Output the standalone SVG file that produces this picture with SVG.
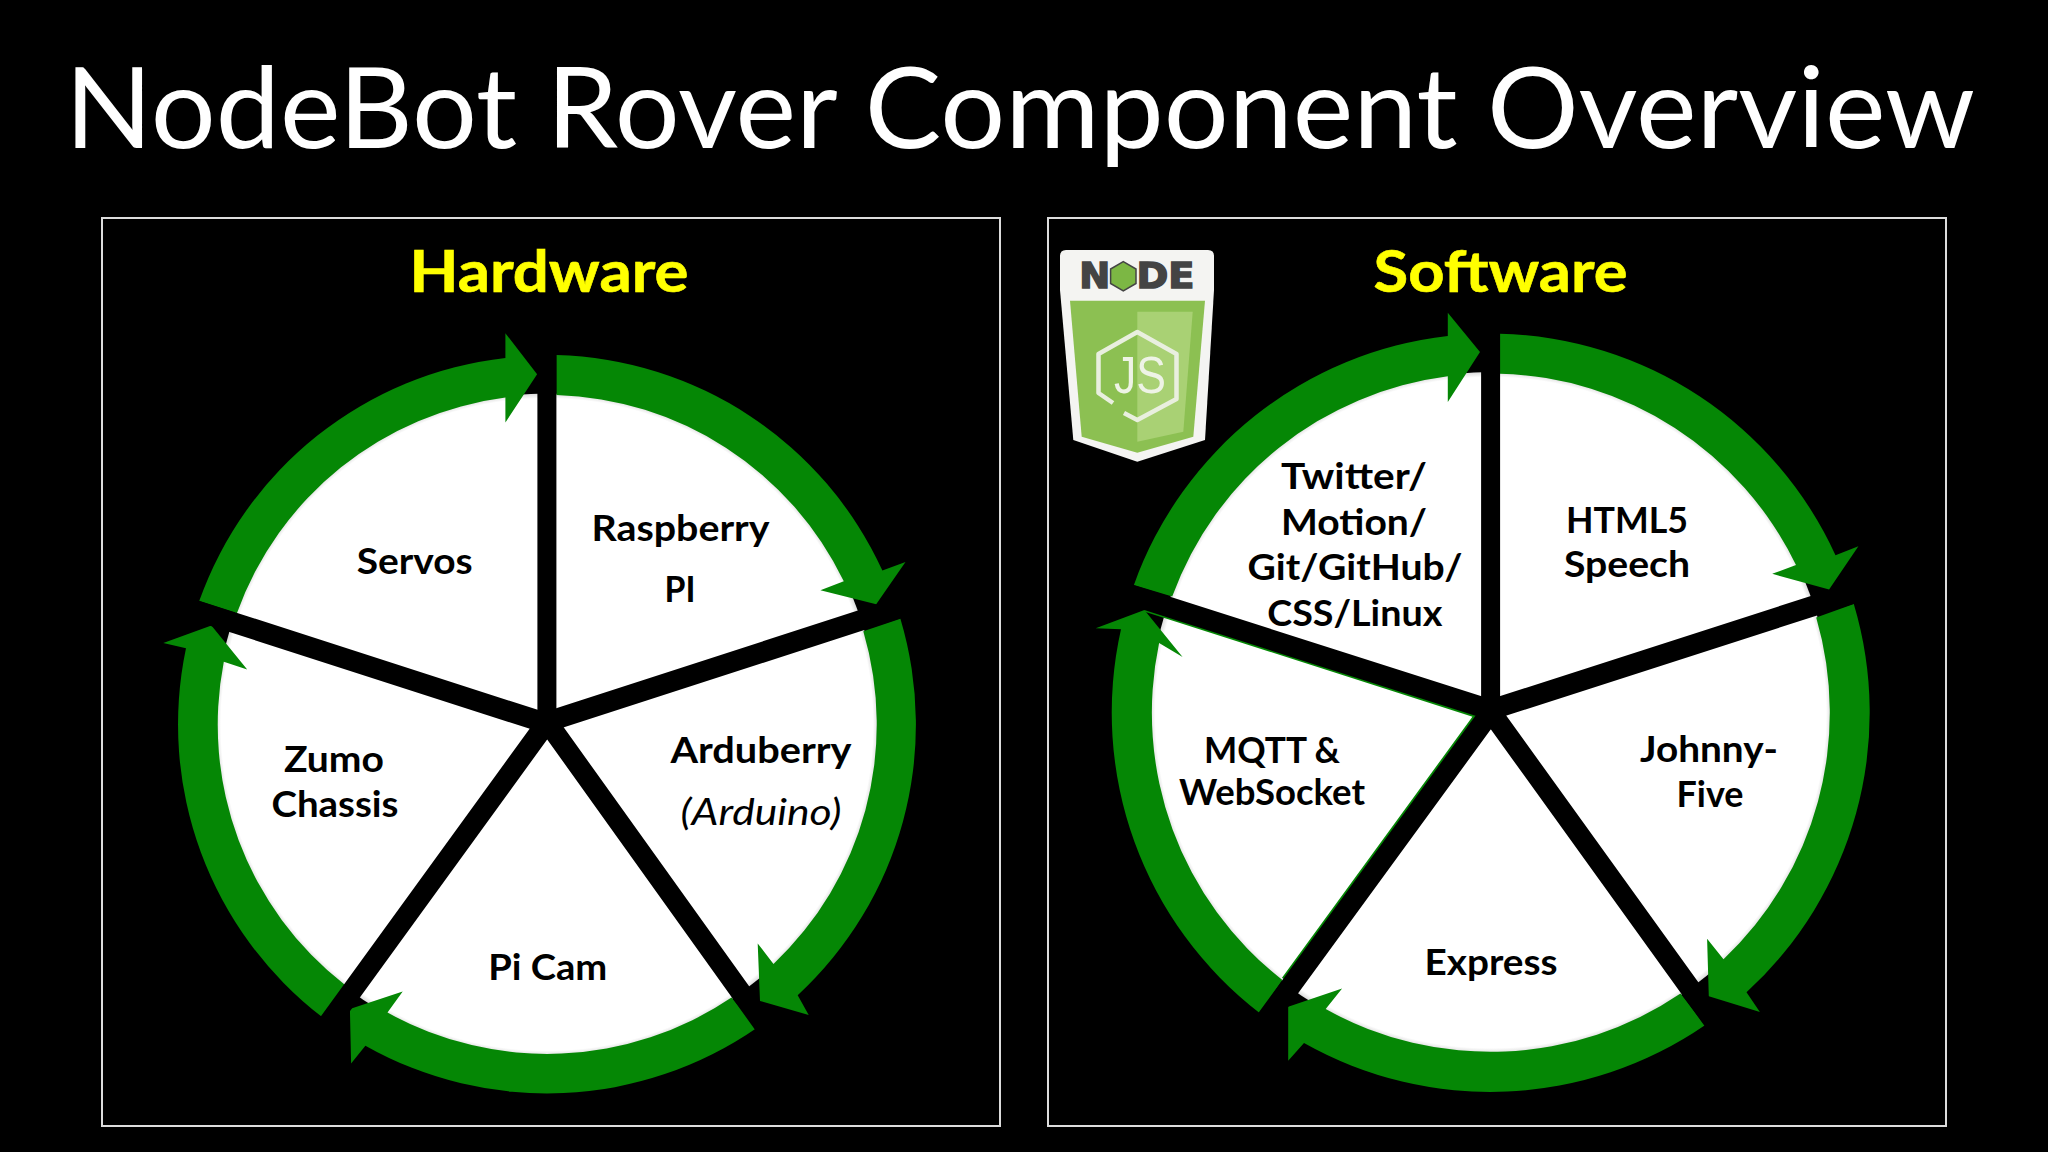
<svg xmlns="http://www.w3.org/2000/svg" width="2048" height="1152" viewBox="0 0 2048 1152">
<style>
text{font-family:"Lato","Carlito","Liberation Sans",sans-serif;text-anchor:middle;fill:#000}
.lb{font-size:36px;font-weight:700}
.head{font-size:57px;font-weight:700;fill:#ffff00;stroke:#ffff00;stroke-width:0.6}
.arc{fill:#058705}
.spoke{stroke:#000;stroke-width:20.5;stroke-linecap:butt;fill:none}
.vert{stroke:#000;stroke-width:19;fill:none}
.frame{fill:none;stroke:#dcdcdc;stroke-width:2}
</style>
<defs>
<radialGradient id="disk"><stop offset="0.985" stop-color="#fff"/><stop offset="1" stop-color="#dcdcdc"/></radialGradient>
</defs>
<rect width="2048" height="1152" fill="#000"/>
<text id="title" x="1020" y="147.5" font-size="112" textLength="1910" lengthAdjust="spacingAndGlyphs" style="fill:#fff">NodeBot Rover Component Overview</text>

<g id="hardware-panel">
<rect class="frame" x="102" y="218" width="898" height="908"/>
<text class="head" x="549" y="292" textLength="279" lengthAdjust="spacingAndGlyphs">Hardware</text>
<circle cx="547" cy="724.5" r="331" fill="url(#disk)"/>
</g>
<g id="hardware-arrows">
<path class="arc" d="M556.4 355.1A369 369 0 0 1 882.4 570.6L905.5 562L876.2 604.3L820.4 590.2L843.8 581.3A329.5 329.5 0 0 0 556.4 395.1Z"/>
<path class="arc" d="M900.4 618.7A369 369 0 0 1 797.7 995.2L808.7 1015L760 1000.9L757.7 943.4L773.5 963.9A329.5 329.5 0 0 0 863.3 631.2Z"/>
<path class="arc" d="M756.7 1028A369 369 0 0 1 365.4 1045.7L351.1 1063.6L349.9 1009.1L402.7 991.5L387.5 1012.6A329.5 329.5 0 0 0 731.5 997.5Z"/>
<path class="arc" d="M322.1 1017.1A369 369 0 0 1 186 648.3L163.3 643L211.4 625.4L247.2 669.4L223.8 661.8A329.5 329.5 0 0 0 345.1 985Z"/>
<path class="arc" d="M199.2 601.1A369 369 0 0 1 505.4 357.9L505.4 333.2L537.1 374.3L505.4 422.4L505.4 397.6A329.5 329.5 0 0 0 236.9 613.3Z"/>
<path class="vert" d="M546.9 350V727"/>
<path class="spoke" d="M905 606.1L547 722M767.8 1030L547.3 722M323.6 1030L547.2 722M185 606.9L547 723.6"/>
</g>
<g id="raspberry-pi"><text class="lb" x="680.5" y="540.5" textLength="178" lengthAdjust="spacingAndGlyphs">Raspberry</text><text class="lb" x="680" y="602" textLength="31" lengthAdjust="spacingAndGlyphs">PI</text></g>
<g id="arduberry"><text class="lb" x="761" y="763" textLength="181" lengthAdjust="spacingAndGlyphs">Arduberry</text><text x="761" y="825" font-size="36" font-style="italic" textLength="161" lengthAdjust="spacingAndGlyphs">(Arduino)</text></g>
<g id="pi-cam"><text class="lb" x="547.7" y="980" textLength="119" lengthAdjust="spacingAndGlyphs">Pi Cam</text></g>
<g id="zumo-chassis"><text class="lb" x="334" y="772" textLength="100" lengthAdjust="spacingAndGlyphs">Zumo</text><text class="lb" x="335" y="816.5" textLength="127" lengthAdjust="spacingAndGlyphs">Chassis</text></g>
<g id="servos"><text class="lb" x="414.7" y="574" textLength="116" lengthAdjust="spacingAndGlyphs">Servos</text></g>

<g id="software-panel">
<rect class="frame" x="1048" y="218" width="898" height="908"/>
<text class="head" x="1500.5" y="292" textLength="254" lengthAdjust="spacingAndGlyphs">Software</text>
<circle cx="1490.7" cy="712.6" r="340.5" fill="url(#disk)"/>
</g>
<g id="software-arrows">
<path class="arc" d="M1500 333.7A379 379 0 0 1 1835.5 555.2L1858.4 546.2L1829.1 589.6L1772.2 573.8L1796 565.1A339 339 0 0 0 1500 373.7Z"/>
<path class="arc" d="M1853.8 604A379 379 0 0 1 1746.5 992.3L1759.9 1012L1708.8 996.2L1707.1 938.7L1723.5 959.2A339 339 0 0 0 1816.2 617.6Z"/>
<path class="arc" d="M1704.9 1025.3A379 379 0 0 1 1304 1043.1L1288.2 1060.7L1288.2 1006.7L1342.1 988.6L1325.7 1009.1A339 339 0 0 0 1680.5 993.5Z"/>
<path class="arc" d="M1259.9 1013.2A379 379 0 0 1 1121 629.3L1095.7 628.3L1144.4 610.1L1182.6 657.1L1159.1 643A339 339 0 0 0 1282.4 980Z"/>
<path class="arc" d="M1133.9 584.9A379 379 0 0 1 1447.8 336L1447.8 312.7L1480 352L1447.8 401.9L1447.8 376.3A339 339 0 0 0 1172.2 596.6Z"/>
<path d="M1144.4 610.3L1474.5 716L1283 978.6" fill="none" stroke="#058705" stroke-width="2.5"/>
<path class="vert" d="M1490.6 328V716"/>
<path class="spoke" d="M1860 590.9L1491 709.8M1720.1 1030L1491 712M1258.6 1030L1490.8 712M1120 591.5L1491 710"/>
</g>
<g id="html5-speech"><text class="lb" x="1627" y="532.5" textLength="122" lengthAdjust="spacingAndGlyphs">HTML5</text><text class="lb" x="1627" y="576.5" textLength="126" lengthAdjust="spacingAndGlyphs">Speech</text></g>
<g id="johnny-five"><text class="lb" x="1709" y="761.5" textLength="138" lengthAdjust="spacingAndGlyphs">Johnny-</text><text class="lb" x="1710" y="806.5" textLength="67" lengthAdjust="spacingAndGlyphs">Five</text></g>
<g id="express"><text class="lb" x="1491" y="974.5" textLength="133" lengthAdjust="spacingAndGlyphs">Express</text></g>
<g id="mqtt-websocket"><text class="lb" x="1272" y="762.5" textLength="136" lengthAdjust="spacingAndGlyphs">MQTT &amp;</text><text class="lb" x="1272" y="805" textLength="186" lengthAdjust="spacingAndGlyphs">WebSocket</text></g>
<g id="tools"><text class="lb" x="1354" y="488.5" textLength="146" lengthAdjust="spacingAndGlyphs">Twitter/</text><text class="lb" x="1354" y="534.5" textLength="146" lengthAdjust="spacingAndGlyphs">Motion/</text><text class="lb" x="1355" y="579.5" textLength="215" lengthAdjust="spacingAndGlyphs">Git/GitHub/</text><text class="lb" x="1354.8" y="625.5" textLength="175" lengthAdjust="spacingAndGlyphs">CSS/Linux</text></g>

<g id="nodejs-logo">
<path d="M1066 250H1208Q1214 250 1214 256V290L1205 440L1137.3 461.7L1073.3 440L1060 290V256Q1060 250 1066 250Z" fill="#f4f4f2"/>
<path d="M1070 300.7H1205L1193.3 436.7L1137.3 452.7L1081.7 436.7Z" fill="#8cc052"/>
<path d="M1137.3 311.7H1192.7L1183.3 431.7L1137.3 441.7Z" fill="#a9d174"/>
<text x="1094.7" y="288.3" font-size="35" textLength="31" lengthAdjust="spacingAndGlyphs" style="font-family:'DejaVu Sans',sans-serif;font-weight:700;fill:#444;stroke:#444;stroke-width:1.5">N</text>
<text x="1165.5" y="288.3" font-size="35" textLength="58" lengthAdjust="spacingAndGlyphs" style="font-family:'DejaVu Sans',sans-serif;font-weight:700;fill:#444;stroke:#444;stroke-width:1.5">DE</text>
<path d="M1123.3 261.7L1136 269V283.5L1123.3 290.8L1110.6 283.5V269Z" fill="#7cb744" stroke="#444" stroke-width="1.5"/>
<path d="M1113 403L1098.5 393V354L1137.3 332L1176.5 354V399L1137.3 420L1124 413" fill="none" stroke="#e9efdf" stroke-width="4.5" stroke-linejoin="round"/>
<text x="1140" y="393" font-size="52" textLength="52" lengthAdjust="spacingAndGlyphs" style="font-family:'Liberation Sans',sans-serif;fill:#eef3e6">JS</text>
</g>
</svg>
